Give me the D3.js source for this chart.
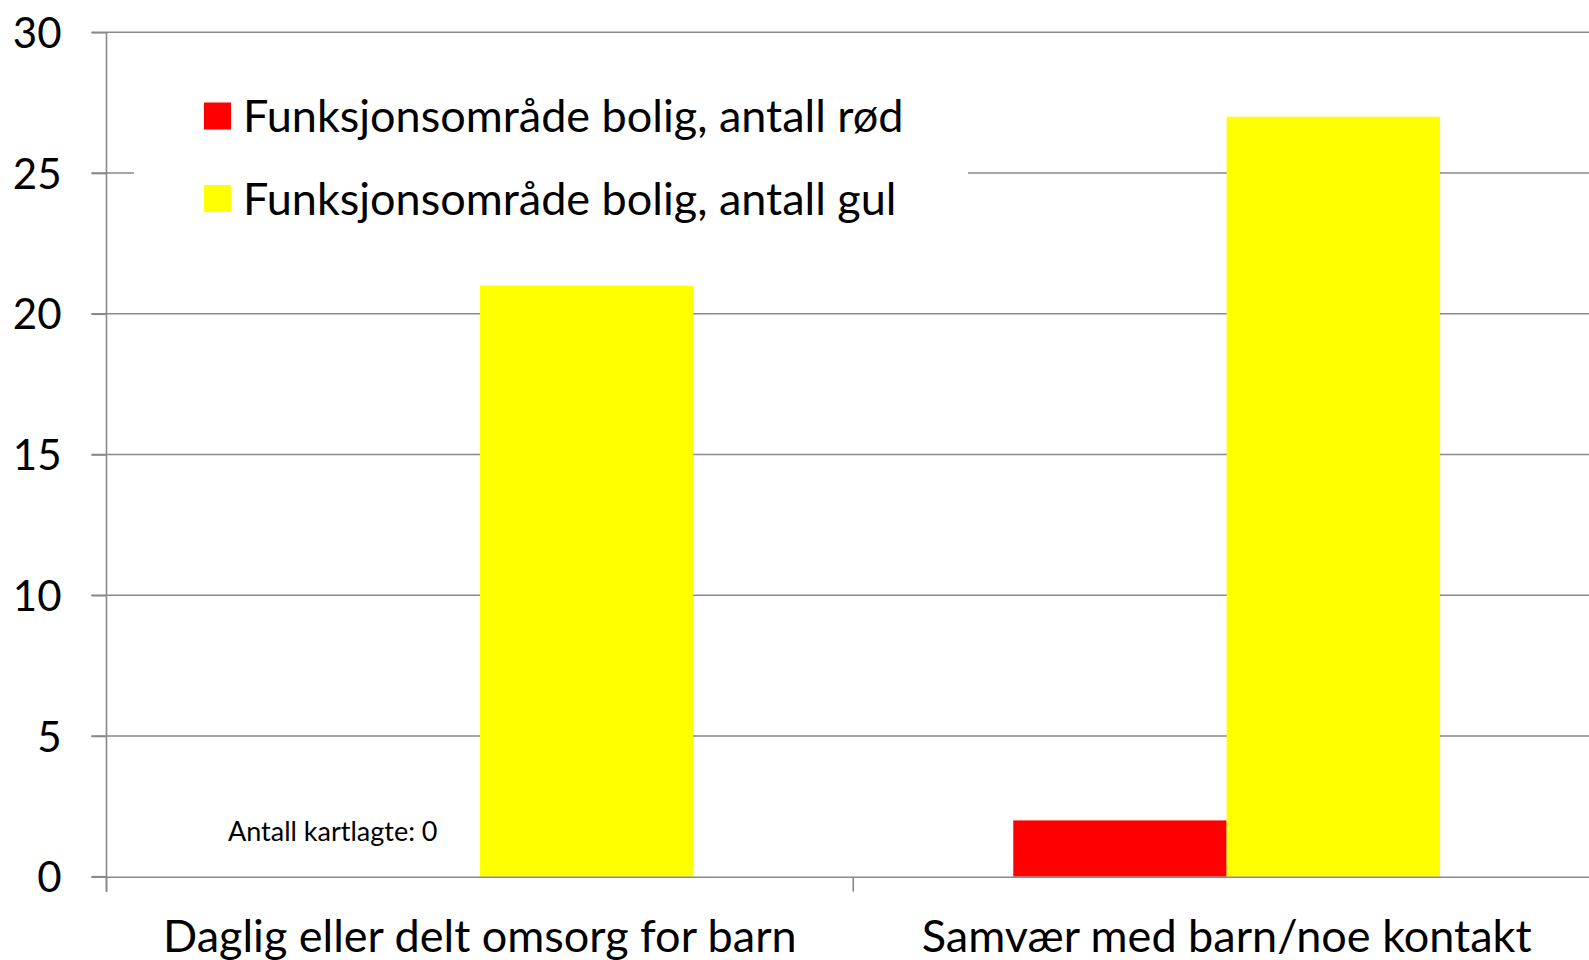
<!DOCTYPE html>
<html>
<head>
<meta charset="utf-8">
<script src="https://cdn.jsdelivr.net/npm/d3@7"></script>
<style>
  html, body { margin: 0; padding: 0; background: #fff; overflow: hidden; }
  svg { display: block; font-family: Lato, "Open Sans", sans-serif; }
</style>
</head>
<body>
<svg id="chart" width="1589" height="960"></svg>
<script>
const categories = ["Daglig eller delt omsorg for barn", "Samvær med barn/noe kontakt"];
const seriesNames = ["Funksjonsområde bolig, antall rød", "Funksjonsområde bolig, antall gul"];
const seriesColors = ["#FF0000", "#FFFF00"];
const redValues = [0, 2];
const yellowValues = [21, 27];
const yTicks = [0, 5, 10, 15, 20, 25, 30];
const annotation = "Antall kartlagte: 0";

const svg = d3.select("#chart");
const plotLeft = 106.5, plotRight = 1600, plotTop = 32.3, plotBottom = 876.7;

const x0 = d3.scaleBand().domain(categories).range([plotLeft, plotRight]).padding(0);
const bw = x0.bandwidth();
const x1 = d3.scaleBand().domain(seriesNames)
  .range([bw * 0.75 / 3.5, bw - bw * 0.75 / 3.5]).padding(0);
const y = d3.scaleLinear().domain([0, 30]).range([plotBottom, plotTop]);

const gridColor = "#898989";

// gridlines
svg.append("g").selectAll("line").data(yTicks.filter(d => d !== 0)).join("line")
  .attr("x1", plotLeft - 15).attr("x2", plotRight)
  .attr("y1", d => y(d)).attr("y2", d => y(d))
  .attr("stroke", gridColor).attr("stroke-width", 1.6);

// legend background (covers gridline)
const legendG = svg.append("g");
legendG.append("rect").attr("x", 134).attr("y", 70).attr("width", 834).attr("height", 160).attr("fill", "#fff");

// bars
const data = categories.map((c, i) => ({ cat: c, vals: [redValues[i], yellowValues[i]] }));
const groups = svg.append("g").selectAll("g").data(data).join("g")
  .attr("transform", d => `translate(${x0(d.cat)},0)`);
groups.selectAll("rect").data(d => d.vals.map((v, j) => ({ name: seriesNames[j], v, color: seriesColors[j] })))
  .join("rect")
  .attr("x", d => x1(d.name)).attr("width", x1.bandwidth())
  .attr("y", d => y(d.v)).attr("height", d => y(0) - y(d.v))
  .attr("fill", d => d.color);

// x axis
const xAxis = d3.axisBottom(x0).tickSize(0).tickFormat("");
const xg = svg.append("g").attr("transform", `translate(0,${y(0)})`).call(xAxis);
xg.select(".domain").attr("stroke", gridColor).attr("stroke-width", 1.6);
// category boundary ticks
svg.append("g").selectAll("line").data(categories).join("line")
  .attr("x1", d => x0(d)).attr("x2", d => x0(d))
  .attr("y1", y(0)).attr("y2", y(0) + 15)
  .attr("stroke", gridColor).attr("stroke-width", 1.6);
svg.append("line").attr("x1", plotLeft - 15).attr("x2", plotLeft)
  .attr("y1", y(0)).attr("y2", y(0)).attr("stroke", gridColor).attr("stroke-width", 1.6);

// category labels
svg.append("g").selectAll("text").data(categories).join("text")
  .attr("x", d => x0(d) + bw / 2).attr("y", 952)
  .attr("text-anchor", "middle").attr("font-size", 45).attr("fill", "#000")
  .text(d => d);

// y axis
const yAxis = d3.axisLeft(y).tickValues(yTicks).tickSize(15).tickPadding(30);
const yg = svg.append("g").attr("transform", `translate(${plotLeft},0)`).call(yAxis);
yg.select(".domain").remove();
yg.selectAll(".tick line").attr("stroke", gridColor).attr("stroke-width", 1.6);
yg.selectAll(".tick text").attr("font-size", 42).attr("fill", "#000")
  .attr("font-family", "Lato, sans-serif").attr("dy", "0.36em").attr("x", -45);
svg.append("line").attr("x1", plotLeft).attr("x2", plotLeft)
  .attr("y1", y(30)).attr("y2", y(0) + 15).attr("stroke", gridColor).attr("stroke-width", 1.6);

// annotation
svg.append("text").attr("x", 228).attr("y", 840.5).attr("font-size", 27).attr("fill", "#000").text(annotation);

// legend
const li = legendG.selectAll("g.item").data(seriesNames).join("g").attr("class", "item")
  .attr("transform", (d, i) => `translate(0,${116 + i * 82.5})`);
li.append("rect").attr("x", 204).attr("y", -13.5).attr("width", 27).attr("height", 27)
  .attr("fill", (d, i) => seriesColors[i]);
li.append("text").attr("x", 243).attr("y", 0).attr("dy", "0.36em")
  .attr("font-size", 45).attr("fill", "#000").text(d => d);
</script>
</body>
</html>
